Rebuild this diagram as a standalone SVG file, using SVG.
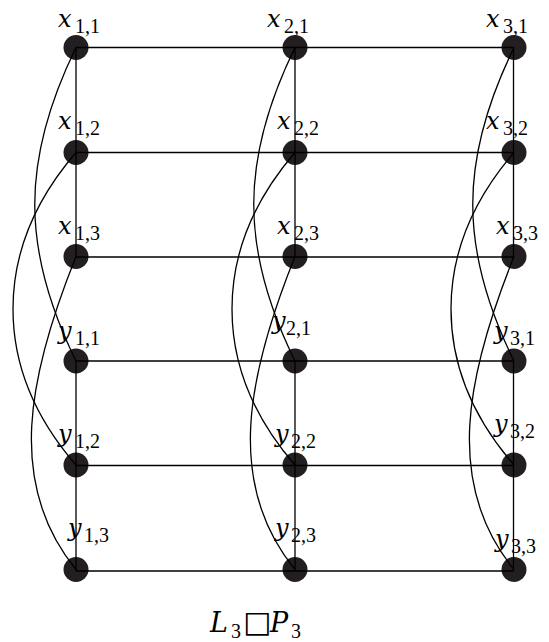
<svg xmlns="http://www.w3.org/2000/svg" width="549" height="642" viewBox="0 0 549 642">
<defs>
<style>
.bg{fill:#ffffff}
.node circle{fill:#231f20}
.edge{fill:none;stroke:#000;stroke-width:1.3}
.lbl{font-family:"DejaVu Serif","Liberation Serif",serif;font-style:italic;font-size:24px;fill:#000}
.sub{font-family:"Liberation Serif","DejaVu Serif",serif;font-style:normal;font-size:20px;fill:#000}
.ttl{font-family:"DejaVu Serif","Liberation Serif",serif;font-style:italic;font-size:27px;fill:#000}
.box{font-family:"DejaVu Sans",sans-serif;font-style:normal;font-size:30px;fill:#000}
</style>
<path id="cA" d="M76,47.5 C21,160 21,249 76,361"/>
<path id="cB" d="M76,152.5 C-8,250 -8,368 76,465"/>
<path id="cC" d="M76,256.5 C28,376 6,484 76,569.5"/>
</defs>
<rect class="bg" x="0" y="0" width="549" height="642"/>

<g id="x11" class="node"><circle cx="76" cy="47.5" r="12.5"/><text y="27"><tspan class="lbl" x="58">x</tspan><tspan class="sub" x="75" dy="6">1,1</tspan></text></g>
<g id="x21" class="node"><circle cx="295" cy="47.5" r="12.5"/><text y="27"><tspan class="lbl" x="267">x</tspan><tspan class="sub" x="284" dy="6">2,1</tspan></text></g>
<g id="x31" class="node"><circle cx="514" cy="47.5" r="12.5"/><text y="27"><tspan class="lbl" x="486">x</tspan><tspan class="sub" x="503" dy="6">3,1</tspan></text></g>
<g id="x12" class="node"><circle cx="76" cy="152.5" r="12.5"/><text y="129"><tspan class="lbl" x="58">x</tspan><tspan class="sub" x="75" dy="6">1,2</tspan></text></g>
<g id="x22" class="node"><circle cx="295" cy="152.5" r="12.5"/><text y="129"><tspan class="lbl" x="277">x</tspan><tspan class="sub" x="294" dy="6">2,2</tspan></text></g>
<g id="x32" class="node"><circle cx="514" cy="152.5" r="12.5"/><text y="129"><tspan class="lbl" x="486">x</tspan><tspan class="sub" x="503" dy="6">3,2</tspan></text></g>
<g id="x13" class="node"><circle cx="76" cy="256.5" r="12.5"/><text y="234"><tspan class="lbl" x="58">x</tspan><tspan class="sub" x="75" dy="6">1,3</tspan></text></g>
<g id="x23" class="node"><circle cx="295" cy="256.5" r="12.5"/><text y="234"><tspan class="lbl" x="277">x</tspan><tspan class="sub" x="294" dy="6">2,3</tspan></text></g>
<g id="x33" class="node"><circle cx="514" cy="256.5" r="12.5"/><text y="234"><tspan class="lbl" x="496">x</tspan><tspan class="sub" x="513" dy="6">3,3</tspan></text></g>

<g id="y11" class="node"><circle cx="76" cy="361" r="12.5"/><text y="339"><tspan class="lbl" x="58">y</tspan><tspan class="sub" x="75" dy="6">1,1</tspan></text></g>
<g id="y21" class="node"><circle cx="295" cy="361" r="12.5"/><text y="329"><tspan class="lbl" x="272">y</tspan><tspan class="sub" x="286" dy="6">2,1</tspan></text></g>
<g id="y31" class="node"><circle cx="514" cy="361" r="12.5"/><text y="339"><tspan class="lbl" x="494">y</tspan><tspan class="sub" x="510" dy="6">3,1</tspan></text></g>
<g id="y12" class="node"><circle cx="76" cy="465" r="12.5"/><text y="442"><tspan class="lbl" x="58">y</tspan><tspan class="sub" x="75" dy="6">1,2</tspan></text></g>
<g id="y22" class="node"><circle cx="295" cy="465" r="12.5"/><text y="442"><tspan class="lbl" x="275">y</tspan><tspan class="sub" x="291" dy="6">2,2</tspan></text></g>
<g id="y32" class="node"><circle cx="514" cy="465" r="12.5"/><text y="432"><tspan class="lbl" x="494">y</tspan><tspan class="sub" x="510" dy="6">3,2</tspan></text></g>
<g id="y13" class="node"><circle cx="76" cy="569.5" r="12.5"/><text y="536"><tspan class="lbl" x="68">y</tspan><tspan class="sub" x="84" dy="6">1,3</tspan></text></g>
<g id="y23" class="node"><circle cx="295" cy="569.5" r="12.5"/><text y="536"><tspan class="lbl" x="275">y</tspan><tspan class="sub" x="291" dy="6">2,3</tspan></text></g>
<g id="y33" class="node"><circle cx="514" cy="569.5" r="12.5"/><text y="547"><tspan class="lbl" x="495">y</tspan><tspan class="sub" x="511" dy="6">3,3</tspan></text></g>

<g id="connectors" class="edge">
<path d="M76,47.5 H513.5 M76,152.5 H513.5 M76,257 H513.5"/>
<path d="M76,47.5 V257 M295,47.5 V257 M513.5,47.5 V257"/>
<path d="M76,361 H513.5 M76,465.5 H513.5 M76,571 H513.5"/>
<path d="M76,361 V571 M295,361 V571 M513.5,361 V571"/>
<use href="#cA"/><use href="#cB"/><use href="#cC"/>
<use href="#cA" x="219"/><use href="#cB" x="219"/><use href="#cC" x="219"/>
<use href="#cA" x="438"/><use href="#cB" x="438"/><use href="#cC" x="438"/>
</g>

<g id="title">
<text y="632"><tspan class="ttl" x="210">L</tspan><tspan class="sub" x="231" dy="6">3</tspan><tspan class="box" x="243" dy="-6">□</tspan><tspan class="ttl" x="270">P</tspan><tspan class="sub" x="291" dy="6">3</tspan></text>
</g>
</svg>
